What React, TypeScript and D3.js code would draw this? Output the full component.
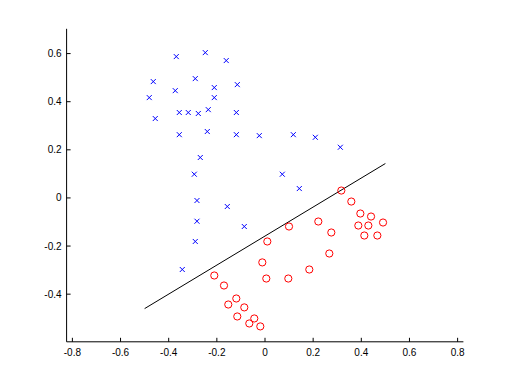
import React from "react";
import * as d3 from "d3";

const crossX = [-0.3685, -0.248, -0.161, -0.464, -0.2896, -0.2106, -0.115, -0.3727, -0.4807, -0.2106, -0.4558, -0.356, -0.3187, -0.277, -0.2356, -0.119, -0.356, -0.2397, -0.119, -0.0237, 0.1176, 0.209, 0.3128, -0.2688, -0.2937, 0.0719, 0.1425, -0.2825, -0.1566, -0.2825, -0.086, -0.2896, -0.3436];
const crossY = [0.5875, 0.604, 0.571, 0.4836, 0.496, 0.4587, 0.471, 0.446, 0.417, 0.417, 0.33, 0.355, 0.355, 0.351, 0.367, 0.355, 0.263, 0.276, 0.263, 0.259, 0.263, 0.252, 0.2106, 0.168, 0.0985, 0.0985, 0.039, -0.0108, -0.0357, -0.0968, -0.1188, -0.181, -0.2975];

const circleX = [0.317, 0.3585, 0.396, 0.4404, 0.3876, 0.4292, 0.4902, 0.4125, 0.4666, 0.2214, 0.2754, 0.0997, 0.0096, 0.2671, -0.0112, 0.184, 0.0054, 0.0968, -0.2106, -0.1703, -0.1192, -0.1525, -0.086, -0.1151, -0.0445, -0.0652, -0.0195];
const circleY = [0.0307, -0.015, -0.0648, -0.0773, -0.1147, -0.1147, -0.1022, -0.1562, -0.1562, -0.098, -0.1437, -0.1188, -0.181, -0.231, -0.268, -0.2975, -0.335, -0.335, -0.3224, -0.364, -0.418, -0.443, -0.455, -0.4927, -0.501, -0.5218, -0.534];

const lineX = [-0.5, 0.5];
const lineY = [-0.46, 0.143];

const xTicks = [-0.8, -0.6, -0.4, -0.2, 0, 0.2, 0.4, 0.6, 0.8];
const yTicks = [-0.4, -0.2, 0, 0.2, 0.4, 0.6];

const W = 512, H = 384;
const L = 66.6, R = 463.4, T = 28.8, B = 341.8;

export default function App() {
  const x = d3.scaleLinear().domain([-0.824, 0.824]).range([L, R]);
  const y = d3.scaleLinear().domain([-0.598, 0.703]).range([B, T]);
  const line = d3.line<number>().x((d, i) => x(lineX[i])).y((d, i) => y(lineY[i]));
  const fmt = (v: number) => (v === 0 ? "0" : String(v));
  const s = 2.5;
  return (
    <svg width={W} height={H} style={{ position: "absolute", left: 0, top: 0, background: "#fff" }}
      fontFamily="'Liberation Sans', Arial, sans-serif" fontSize={10}>
      <rect x={0} y={0} width={W} height={H} fill="#fff" />
      <line x1={L} y1={T} x2={L} y2={B} stroke="#000" strokeWidth={1} />
      <line x1={L} y1={B} x2={R} y2={B} stroke="#000" strokeWidth={1} />
      {xTicks.map((t) => (
        <g key={"x" + t}>
          <line x1={x(t)} x2={x(t)} y1={B} y2={B - 4} stroke="#000" />
          <text x={x(t)} y={B + 14} textAnchor="middle" fill="#000">{fmt(t)}</text>
        </g>
      ))}
      {yTicks.map((t) => (
        <g key={"y" + t}>
          <line x1={L} x2={L + 4} y1={y(t)} y2={y(t)} stroke="#000" />
          <text x={L - 5} y={y(t) + 3.5} textAnchor="end" fill="#000">{fmt(t)}</text>
        </g>
      ))}
      <path d={line(lineX) || ""} fill="none" stroke="#000" strokeWidth={1} />
      {crossX.map((cx, i) => {
        const px = x(cx), py = y(crossY[i]);
        return (
          <path key={"c" + i} d={`M${px - s},${py - s}L${px + s},${py + s}M${px - s},${py + s}L${px + s},${py - s}`}
            stroke="#0000ff" strokeWidth={1} fill="none" />
        );
      })}
      {circleX.map((cx, i) => (
        <circle key={"o" + i} cx={x(cx)} cy={y(circleY[i])} r={3.6} fill="none" stroke="#ff0000" strokeWidth={1} />
      ))}
    </svg>
  );
}
